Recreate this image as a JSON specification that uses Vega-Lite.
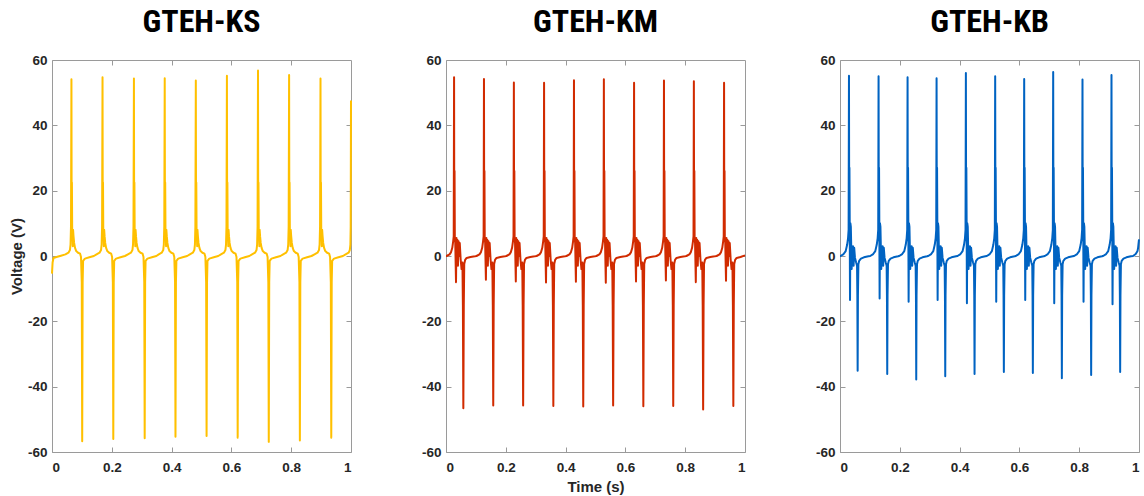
{
"$schema": "https://vega.github.io/schema/vega-lite/v6.json",
"background": "white",
"padding": {"left": 8, "top": 5, "right": 2, "bottom": 2},
"bounds": "flush",
"spacing": 95,
"config": {
  "view": {"stroke": "#9a9a9a", "strokeWidth": 1},
  "axis": {"labelFont": "Liberation Sans", "labelFontWeight": "bold", "labelFontSize": 13.5, "labelColor": "#262626", "domain": false, "tickColor": "#9a9a9a", "tickSize": -5, "labelPadding": 10, "grid": false, "titleFont": "Liberation Sans", "titleFontWeight": "bold", "titleFontSize": 15, "titleColor": "#262626"},
  "axisBottom": {"labelPadding": 13},
  "title": {"font": "Liberation Sans Narrow, Roboto Condensed, Liberation Sans", "fontSize": 32, "fontWeight": "bold", "color": "#000000", "anchor": "middle", "offset": 14}
},
"datasets": {
"ks": [
{"t":0,"v":-5.4},{"t":0.002,"v":-2.0},{"t":0.005,"v":-0.6},{"t":0.015,"v":-0.3},{"t":0.03,"v":0.1},
{"t":0.045,"v":0.5},{"t":0.055,"v":1.0},{"t":0.060,"v":1.8},{"t":0.062,"v":3.5},{"t":0.0635,"v":9},{"t":0.065,"v":54.1},{"t":0.0658,"v":10},{"t":0.0666,"v":22.5},{"t":0.0675,"v":8},{"t":0.0685,"v":6.5},{"t":0.0695,"v":3},{"t":0.0705,"v":8},{"t":0.072,"v":6},{"t":0.074,"v":4},{"t":0.077,"v":2.5},{"t":0.081,"v":1.5},{"t":0.087,"v":1.0},{"t":0.094,"v":0.7},{"t":0.097,"v":-0.3},{"t":0.0995,"v":-8},{"t":0.101,"v":-56.7},{"t":0.1025,"v":-8},{"t":0.104,"v":-1.5},{"t":0.110,"v":-0.8},{"t":0.125,"v":-0.4},{"t":0.140,"v":0.0},
{"t":0.149,"v":0.5},{"t":0.159,"v":1.0},{"t":0.164,"v":1.8},{"t":0.166,"v":3.5},{"t":0.1675,"v":9},{"t":0.169,"v":54.7},{"t":0.1698,"v":10},{"t":0.1706,"v":22.5},{"t":0.1715,"v":8},{"t":0.1725,"v":6.5},{"t":0.1735,"v":3},{"t":0.1745,"v":8},{"t":0.176,"v":6},{"t":0.178,"v":4},{"t":0.181,"v":2.5},{"t":0.185,"v":1.5},{"t":0.191,"v":1.0},{"t":0.198,"v":0.7},{"t":0.201,"v":-0.3},{"t":0.2035,"v":-8},{"t":0.205,"v":-56.0},{"t":0.2065,"v":-8},{"t":0.208,"v":-1.5},{"t":0.214,"v":-0.8},{"t":0.229,"v":-0.4},{"t":0.244,"v":0.0},
{"t":0.254,"v":0.5},{"t":0.264,"v":1.0},{"t":0.269,"v":1.8},{"t":0.271,"v":3.5},{"t":0.2725,"v":9},{"t":0.274,"v":54.3},{"t":0.2748,"v":10},{"t":0.2756,"v":22.5},{"t":0.2765,"v":8},{"t":0.2775,"v":6.5},{"t":0.2785,"v":3},{"t":0.2795,"v":8},{"t":0.281,"v":6},{"t":0.283,"v":4},{"t":0.286,"v":2.5},{"t":0.290,"v":1.5},{"t":0.296,"v":1.0},{"t":0.303,"v":0.7},{"t":0.306,"v":-0.3},{"t":0.3085,"v":-8},{"t":0.310,"v":-55.8},{"t":0.3115,"v":-8},{"t":0.313,"v":-1.5},{"t":0.319,"v":-0.8},{"t":0.334,"v":-0.4},{"t":0.349,"v":0.0},
{"t":0.357,"v":0.5},{"t":0.367,"v":1.0},{"t":0.372,"v":1.8},{"t":0.374,"v":3.5},{"t":0.3755,"v":9},{"t":0.377,"v":54.4},{"t":0.3778,"v":10},{"t":0.3786,"v":22.5},{"t":0.3795,"v":8},{"t":0.3805,"v":6.5},{"t":0.3815,"v":3},{"t":0.3825,"v":8},{"t":0.384,"v":6},{"t":0.386,"v":4},{"t":0.389,"v":2.5},{"t":0.393,"v":1.5},{"t":0.399,"v":1.0},{"t":0.406,"v":0.7},{"t":0.409,"v":-0.3},{"t":0.4115,"v":-8},{"t":0.413,"v":-55.3},{"t":0.4145,"v":-8},{"t":0.416,"v":-1.5},{"t":0.422,"v":-0.8},{"t":0.437,"v":-0.4},{"t":0.452,"v":0.0},
{"t":0.461,"v":0.5},{"t":0.471,"v":1.0},{"t":0.476,"v":1.8},{"t":0.478,"v":3.5},{"t":0.4795,"v":9},{"t":0.481,"v":53.7},{"t":0.4818,"v":10},{"t":0.4826,"v":22.5},{"t":0.4835,"v":8},{"t":0.4845,"v":6.5},{"t":0.4855,"v":3},{"t":0.4865,"v":8},{"t":0.488,"v":6},{"t":0.490,"v":4},{"t":0.493,"v":2.5},{"t":0.497,"v":1.5},{"t":0.503,"v":1.0},{"t":0.510,"v":0.7},{"t":0.513,"v":-0.3},{"t":0.5155,"v":-8},{"t":0.517,"v":-55.1},{"t":0.5185,"v":-8},{"t":0.520,"v":-1.5},{"t":0.526,"v":-0.8},{"t":0.541,"v":-0.4},{"t":0.556,"v":0.0},
{"t":0.565,"v":0.5},{"t":0.575,"v":1.0},{"t":0.580,"v":1.8},{"t":0.582,"v":3.5},{"t":0.5835,"v":9},{"t":0.585,"v":55.2},{"t":0.5858,"v":10},{"t":0.5866,"v":22.5},{"t":0.5875,"v":8},{"t":0.5885,"v":6.5},{"t":0.5895,"v":3},{"t":0.5905,"v":8},{"t":0.592,"v":6},{"t":0.594,"v":4},{"t":0.597,"v":2.5},{"t":0.601,"v":1.5},{"t":0.607,"v":1.0},{"t":0.614,"v":0.7},{"t":0.617,"v":-0.3},{"t":0.6195,"v":-8},{"t":0.621,"v":-55.6},{"t":0.6225,"v":-8},{"t":0.624,"v":-1.5},{"t":0.630,"v":-0.8},{"t":0.645,"v":-0.4},{"t":0.660,"v":0.0},
{"t":0.669,"v":0.5},{"t":0.679,"v":1.0},{"t":0.684,"v":1.8},{"t":0.686,"v":3.5},{"t":0.6875,"v":9},{"t":0.689,"v":56.8},{"t":0.6898,"v":10},{"t":0.6906,"v":22.5},{"t":0.6915,"v":8},{"t":0.6925,"v":6.5},{"t":0.6935,"v":3},{"t":0.6945,"v":8},{"t":0.696,"v":6},{"t":0.698,"v":4},{"t":0.701,"v":2.5},{"t":0.705,"v":1.5},{"t":0.711,"v":1.0},{"t":0.718,"v":0.7},{"t":0.721,"v":-0.3},{"t":0.7235,"v":-8},{"t":0.725,"v":-56.9},{"t":0.7265,"v":-8},{"t":0.728,"v":-1.5},{"t":0.734,"v":-0.8},{"t":0.749,"v":-0.4},{"t":0.764,"v":0.0},
{"t":0.773,"v":0.5},{"t":0.783,"v":1.0},{"t":0.788,"v":1.8},{"t":0.790,"v":3.5},{"t":0.7915,"v":9},{"t":0.793,"v":55.4},{"t":0.7938,"v":10},{"t":0.7946,"v":22.5},{"t":0.7955,"v":8},{"t":0.7965,"v":6.5},{"t":0.7975,"v":3},{"t":0.7985,"v":8},{"t":0.800,"v":6},{"t":0.802,"v":4},{"t":0.805,"v":2.5},{"t":0.809,"v":1.5},{"t":0.815,"v":1.0},{"t":0.822,"v":0.7},{"t":0.825,"v":-0.3},{"t":0.8275,"v":-8},{"t":0.829,"v":-56.5},{"t":0.8305,"v":-8},{"t":0.832,"v":-1.5},{"t":0.838,"v":-0.8},{"t":0.853,"v":-0.4},{"t":0.868,"v":0.0},
{"t":0.878,"v":0.5},{"t":0.888,"v":1.0},{"t":0.893,"v":1.8},{"t":0.895,"v":3.5},{"t":0.8965,"v":9},{"t":0.898,"v":54.3},{"t":0.8988,"v":10},{"t":0.8996,"v":22.5},{"t":0.9005,"v":8},{"t":0.9015,"v":6.5},{"t":0.9025,"v":3},{"t":0.9035,"v":8},{"t":0.905,"v":6},{"t":0.907,"v":4},{"t":0.910,"v":2.5},{"t":0.914,"v":1.5},{"t":0.920,"v":1.0},{"t":0.927,"v":0.7},{"t":0.930,"v":-0.3},{"t":0.9325,"v":-8},{"t":0.934,"v":-55.6},{"t":0.9355,"v":-8},{"t":0.937,"v":-1.5},{"t":0.943,"v":-0.8},{"t":0.958,"v":-0.4},{"t":0.973,"v":0.0},
{"t":0.982,"v":0.5},{"t":0.992,"v":1.0},{"t":0.996,"v":1.8},{"t":0.998,"v":3.5},{"t":0.999,"v":9},{"t":1.0,"v":47.6}
],
"km": [
{"t":0,"v":0.0},
{"t":0.002,"v":0.0},{"t":0.012,"v":0.5},{"t":0.017,"v":1.2},{"t":0.021,"v":2.5},{"t":0.024,"v":4.5},{"t":0.0258,"v":6},{"t":0.027,"v":54.7},{"t":0.0278,"v":6},{"t":0.0286,"v":26},{"t":0.0295,"v":5.5},{"t":0.031,"v":4},{"t":0.0335,"v":-8.0},{"t":0.035,"v":5.5},{"t":0.0365,"v":1},{"t":0.038,"v":5},{"t":0.040,"v":-3},{"t":0.042,"v":4.5},{"t":0.044,"v":0},{"t":0.046,"v":4},{"t":0.049,"v":-1},{"t":0.052,"v":-4},{"t":0.055,"v":-2},{"t":0.0565,"v":-15},{"t":0.058,"v":-46.6},{"t":0.0595,"v":-15},{"t":0.061,"v":-2.5},{"t":0.064,"v":-1.2},{"t":0.069,"v":-0.6},{"t":0.082,"v":-0.3},{"t":0.097,"v":-0.1},
{"t":0.102,"v":0.0},{"t":0.112,"v":0.5},{"t":0.117,"v":1.2},{"t":0.121,"v":2.5},{"t":0.124,"v":4.5},{"t":0.1258,"v":6},{"t":0.127,"v":54.2},{"t":0.1278,"v":6},{"t":0.1286,"v":26},{"t":0.1295,"v":5.5},{"t":0.131,"v":4},{"t":0.1335,"v":-7.3},{"t":0.135,"v":5.5},{"t":0.1365,"v":1},{"t":0.138,"v":5},{"t":0.140,"v":-3},{"t":0.142,"v":4.5},{"t":0.144,"v":0},{"t":0.146,"v":4},{"t":0.149,"v":-1},{"t":0.152,"v":-4},{"t":0.155,"v":-2},{"t":0.1565,"v":-15},{"t":0.158,"v":-45.8},{"t":0.1595,"v":-15},{"t":0.161,"v":-2.5},{"t":0.164,"v":-1.2},{"t":0.169,"v":-0.6},{"t":0.182,"v":-0.3},{"t":0.197,"v":-0.1},
{"t":0.202,"v":0.0},{"t":0.212,"v":0.5},{"t":0.217,"v":1.2},{"t":0.221,"v":2.5},{"t":0.224,"v":4.5},{"t":0.2258,"v":6},{"t":0.227,"v":53.1},{"t":0.2278,"v":6},{"t":0.2286,"v":26},{"t":0.2295,"v":5.5},{"t":0.231,"v":4},{"t":0.2335,"v":-7.8},{"t":0.235,"v":5.5},{"t":0.2365,"v":1},{"t":0.238,"v":5},{"t":0.240,"v":-3},{"t":0.242,"v":4.5},{"t":0.244,"v":0},{"t":0.246,"v":4},{"t":0.249,"v":-1},{"t":0.252,"v":-4},{"t":0.255,"v":-2},{"t":0.2565,"v":-15},{"t":0.258,"v":-45.8},{"t":0.2595,"v":-15},{"t":0.261,"v":-2.5},{"t":0.264,"v":-1.2},{"t":0.269,"v":-0.6},{"t":0.282,"v":-0.3},{"t":0.297,"v":-0.1},
{"t":0.303,"v":0.0},{"t":0.313,"v":0.5},{"t":0.318,"v":1.2},{"t":0.322,"v":2.5},{"t":0.325,"v":4.5},{"t":0.3268,"v":6},{"t":0.328,"v":53.0},{"t":0.3288,"v":6},{"t":0.3296,"v":26},{"t":0.3305,"v":5.5},{"t":0.332,"v":4},{"t":0.3345,"v":-8.1},{"t":0.336,"v":5.5},{"t":0.3375,"v":1},{"t":0.339,"v":5},{"t":0.341,"v":-3},{"t":0.343,"v":4.5},{"t":0.345,"v":0},{"t":0.347,"v":4},{"t":0.350,"v":-1},{"t":0.353,"v":-4},{"t":0.356,"v":-2},{"t":0.3575,"v":-15},{"t":0.359,"v":-45.9},{"t":0.3605,"v":-15},{"t":0.362,"v":-2.5},{"t":0.365,"v":-1.2},{"t":0.370,"v":-0.6},{"t":0.383,"v":-0.3},{"t":0.398,"v":-0.1},
{"t":0.403,"v":0.0},{"t":0.413,"v":0.5},{"t":0.418,"v":1.2},{"t":0.422,"v":2.5},{"t":0.425,"v":4.5},{"t":0.4268,"v":6},{"t":0.428,"v":53.8},{"t":0.4288,"v":6},{"t":0.4296,"v":26},{"t":0.4305,"v":5.5},{"t":0.432,"v":4},{"t":0.4345,"v":-7.9},{"t":0.436,"v":5.5},{"t":0.4375,"v":1},{"t":0.439,"v":5},{"t":0.441,"v":-3},{"t":0.443,"v":4.5},{"t":0.445,"v":0},{"t":0.447,"v":4},{"t":0.450,"v":-1},{"t":0.453,"v":-4},{"t":0.456,"v":-2},{"t":0.4575,"v":-15},{"t":0.459,"v":-46.1},{"t":0.4605,"v":-15},{"t":0.462,"v":-2.5},{"t":0.465,"v":-1.2},{"t":0.470,"v":-0.6},{"t":0.483,"v":-0.3},{"t":0.498,"v":-0.1},
{"t":0.503,"v":0.0},{"t":0.513,"v":0.5},{"t":0.518,"v":1.2},{"t":0.522,"v":2.5},{"t":0.525,"v":4.5},{"t":0.5268,"v":6},{"t":0.528,"v":54.1},{"t":0.5288,"v":6},{"t":0.5296,"v":26},{"t":0.5305,"v":5.5},{"t":0.532,"v":4},{"t":0.5345,"v":-8.2},{"t":0.536,"v":5.5},{"t":0.5375,"v":1},{"t":0.539,"v":5},{"t":0.541,"v":-3},{"t":0.543,"v":4.5},{"t":0.545,"v":0},{"t":0.547,"v":4},{"t":0.550,"v":-1},{"t":0.553,"v":-4},{"t":0.556,"v":-2},{"t":0.5575,"v":-15},{"t":0.559,"v":-45.8},{"t":0.5605,"v":-15},{"t":0.562,"v":-2.5},{"t":0.565,"v":-1.2},{"t":0.570,"v":-0.6},{"t":0.583,"v":-0.3},{"t":0.598,"v":-0.1},
{"t":0.604,"v":0.0},{"t":0.614,"v":0.5},{"t":0.619,"v":1.2},{"t":0.623,"v":2.5},{"t":0.626,"v":4.5},{"t":0.6278,"v":6},{"t":0.629,"v":53.0},{"t":0.6298,"v":6},{"t":0.6306,"v":26},{"t":0.6315,"v":5.5},{"t":0.633,"v":4},{"t":0.6355,"v":-7.8},{"t":0.637,"v":5.5},{"t":0.6385,"v":1},{"t":0.640,"v":5},{"t":0.642,"v":-3},{"t":0.644,"v":4.5},{"t":0.646,"v":0},{"t":0.648,"v":4},{"t":0.651,"v":-1},{"t":0.654,"v":-4},{"t":0.657,"v":-2},{"t":0.6585,"v":-15},{"t":0.660,"v":-46.0},{"t":0.6615,"v":-15},{"t":0.663,"v":-2.5},{"t":0.666,"v":-1.2},{"t":0.671,"v":-0.6},{"t":0.684,"v":-0.3},{"t":0.699,"v":-0.1},
{"t":0.704,"v":0.0},{"t":0.714,"v":0.5},{"t":0.719,"v":1.2},{"t":0.723,"v":2.5},{"t":0.726,"v":4.5},{"t":0.7278,"v":6},{"t":0.729,"v":53.7},{"t":0.7298,"v":6},{"t":0.7306,"v":26},{"t":0.7315,"v":5.5},{"t":0.733,"v":4},{"t":0.7355,"v":-7.5},{"t":0.737,"v":5.5},{"t":0.7385,"v":1},{"t":0.740,"v":5},{"t":0.742,"v":-3},{"t":0.744,"v":4.5},{"t":0.746,"v":0},{"t":0.748,"v":4},{"t":0.751,"v":-1},{"t":0.754,"v":-4},{"t":0.757,"v":-2},{"t":0.7585,"v":-15},{"t":0.760,"v":-45.9},{"t":0.7615,"v":-15},{"t":0.763,"v":-2.5},{"t":0.766,"v":-1.2},{"t":0.771,"v":-0.6},{"t":0.784,"v":-0.3},{"t":0.799,"v":-0.1},
{"t":0.804,"v":0.0},{"t":0.814,"v":0.5},{"t":0.819,"v":1.2},{"t":0.823,"v":2.5},{"t":0.826,"v":4.5},{"t":0.8278,"v":6},{"t":0.829,"v":53.5},{"t":0.8298,"v":6},{"t":0.8306,"v":26},{"t":0.8315,"v":5.5},{"t":0.833,"v":4},{"t":0.8355,"v":-8.0},{"t":0.837,"v":5.5},{"t":0.8385,"v":1},{"t":0.840,"v":5},{"t":0.842,"v":-3},{"t":0.844,"v":4.5},{"t":0.846,"v":0},{"t":0.848,"v":4},{"t":0.851,"v":-1},{"t":0.854,"v":-4},{"t":0.857,"v":-2},{"t":0.8585,"v":-15},{"t":0.860,"v":-47.0},{"t":0.8615,"v":-15},{"t":0.863,"v":-2.5},{"t":0.866,"v":-1.2},{"t":0.871,"v":-0.6},{"t":0.884,"v":-0.3},{"t":0.899,"v":-0.1},
{"t":0.905,"v":0.0},{"t":0.915,"v":0.5},{"t":0.920,"v":1.2},{"t":0.924,"v":2.5},{"t":0.927,"v":4.5},{"t":0.9288,"v":6},{"t":0.930,"v":53.0},{"t":0.9308,"v":6},{"t":0.9316,"v":26},{"t":0.9325,"v":5.5},{"t":0.934,"v":4},{"t":0.9365,"v":-7.6},{"t":0.938,"v":5.5},{"t":0.9395,"v":1},{"t":0.941,"v":5},{"t":0.943,"v":-3},{"t":0.945,"v":4.5},{"t":0.947,"v":0},{"t":0.949,"v":4},{"t":0.952,"v":-1},{"t":0.955,"v":-4},{"t":0.958,"v":-2},{"t":0.9595,"v":-15},{"t":0.961,"v":-45.9},{"t":0.9625,"v":-15},{"t":0.964,"v":-2.5},{"t":0.967,"v":-1.2},{"t":0.972,"v":-0.6},{"t":0.985,"v":-0.3},{"t":1.0,"v":0.2}
],
"kb": [
{"t":0,"v":0.0},
{"t":0.002,"v":0.0},{"t":0.012,"v":0.6},{"t":0.019,"v":1.5},{"t":0.024,"v":3.5},{"t":0.027,"v":5.5},{"t":0.0288,"v":8},{"t":0.030,"v":55.2},{"t":0.0308,"v":10},{"t":0.0316,"v":27},{"t":0.0325,"v":10.5},{"t":0.0335,"v":-13.5},{"t":0.0348,"v":10},{"t":0.0362,"v":9},{"t":0.0378,"v":2},{"t":0.039,"v":-4},{"t":0.0405,"v":3},{"t":0.042,"v":-2},{"t":0.0435,"v":3},{"t":0.0455,"v":-3},{"t":0.0475,"v":2.5},{"t":0.050,"v":-0.5},{"t":0.054,"v":-2},{"t":0.057,"v":-3},{"t":0.058,"v":-12},{"t":0.059,"v":-35.1},{"t":0.060,"v":-12},{"t":0.0615,"v":-2.5},{"t":0.064,"v":-1.5},{"t":0.070,"v":-0.8},{"t":0.080,"v":-0.4},{"t":0.095,"v":-0.1},
{"t":0.101,"v":0.0},{"t":0.111,"v":0.6},{"t":0.118,"v":1.5},{"t":0.123,"v":3.5},{"t":0.126,"v":5.5},{"t":0.1278,"v":8},{"t":0.129,"v":55.0},{"t":0.1298,"v":10},{"t":0.1306,"v":27},{"t":0.1315,"v":10.5},{"t":0.1325,"v":-13.0},{"t":0.1338,"v":10},{"t":0.1352,"v":9},{"t":0.1368,"v":2},{"t":0.138,"v":-4},{"t":0.1395,"v":3},{"t":0.141,"v":-2},{"t":0.1425,"v":3},{"t":0.1445,"v":-3},{"t":0.1465,"v":2.5},{"t":0.149,"v":-0.5},{"t":0.153,"v":-2},{"t":0.156,"v":-3},{"t":0.157,"v":-12},{"t":0.158,"v":-36.1},{"t":0.159,"v":-12},{"t":0.1605,"v":-2.5},{"t":0.163,"v":-1.5},{"t":0.169,"v":-0.8},{"t":0.179,"v":-0.4},{"t":0.194,"v":-0.1},
{"t":0.198,"v":0.0},{"t":0.208,"v":0.6},{"t":0.215,"v":1.5},{"t":0.220,"v":3.5},{"t":0.223,"v":5.5},{"t":0.2248,"v":8},{"t":0.226,"v":54.7},{"t":0.2268,"v":10},{"t":0.2276,"v":27},{"t":0.2285,"v":10.5},{"t":0.2295,"v":-14.0},{"t":0.2308,"v":10},{"t":0.2322,"v":9},{"t":0.2338,"v":2},{"t":0.235,"v":-4},{"t":0.2365,"v":3},{"t":0.238,"v":-2},{"t":0.2395,"v":3},{"t":0.2415,"v":-3},{"t":0.2435,"v":2.5},{"t":0.246,"v":-0.5},{"t":0.250,"v":-2},{"t":0.253,"v":-3},{"t":0.254,"v":-12},{"t":0.255,"v":-37.8},{"t":0.256,"v":-12},{"t":0.2575,"v":-2.5},{"t":0.260,"v":-1.5},{"t":0.266,"v":-0.8},{"t":0.276,"v":-0.4},{"t":0.291,"v":-0.1},
{"t":0.295,"v":0.0},{"t":0.305,"v":0.6},{"t":0.312,"v":1.5},{"t":0.317,"v":3.5},{"t":0.320,"v":5.5},{"t":0.3218,"v":8},{"t":0.323,"v":54.4},{"t":0.3238,"v":10},{"t":0.3246,"v":27},{"t":0.3255,"v":10.5},{"t":0.3265,"v":-13.5},{"t":0.3278,"v":10},{"t":0.3292,"v":9},{"t":0.3308,"v":2},{"t":0.332,"v":-4},{"t":0.3335,"v":3},{"t":0.335,"v":-2},{"t":0.3365,"v":3},{"t":0.3385,"v":-3},{"t":0.3405,"v":2.5},{"t":0.343,"v":-0.5},{"t":0.347,"v":-2},{"t":0.350,"v":-3},{"t":0.351,"v":-12},{"t":0.352,"v":-36.8},{"t":0.353,"v":-12},{"t":0.3545,"v":-2.5},{"t":0.357,"v":-1.5},{"t":0.363,"v":-0.8},{"t":0.373,"v":-0.4},{"t":0.388,"v":-0.1},
{"t":0.393,"v":0.0},{"t":0.403,"v":0.6},{"t":0.410,"v":1.5},{"t":0.415,"v":3.5},{"t":0.418,"v":5.5},{"t":0.4198,"v":8},{"t":0.421,"v":56.0},{"t":0.4218,"v":10},{"t":0.4226,"v":27},{"t":0.4235,"v":10.5},{"t":0.4245,"v":-14.5},{"t":0.4258,"v":10},{"t":0.4272,"v":9},{"t":0.4288,"v":2},{"t":0.430,"v":-4},{"t":0.4315,"v":3},{"t":0.433,"v":-2},{"t":0.4345,"v":3},{"t":0.4365,"v":-3},{"t":0.4385,"v":2.5},{"t":0.441,"v":-0.5},{"t":0.445,"v":-2},{"t":0.448,"v":-3},{"t":0.449,"v":-12},{"t":0.450,"v":-36.1},{"t":0.451,"v":-12},{"t":0.4525,"v":-2.5},{"t":0.455,"v":-1.5},{"t":0.461,"v":-0.8},{"t":0.471,"v":-0.4},{"t":0.486,"v":-0.1},
{"t":0.491,"v":0.0},{"t":0.501,"v":0.6},{"t":0.508,"v":1.5},{"t":0.513,"v":3.5},{"t":0.516,"v":5.5},{"t":0.5178,"v":8},{"t":0.519,"v":55.0},{"t":0.5198,"v":10},{"t":0.5206,"v":27},{"t":0.5215,"v":10.5},{"t":0.5225,"v":-14.0},{"t":0.5238,"v":10},{"t":0.5252,"v":9},{"t":0.5268,"v":2},{"t":0.528,"v":-4},{"t":0.5295,"v":3},{"t":0.531,"v":-2},{"t":0.5325,"v":3},{"t":0.5345,"v":-3},{"t":0.5365,"v":2.5},{"t":0.539,"v":-0.5},{"t":0.543,"v":-2},{"t":0.546,"v":-3},{"t":0.547,"v":-12},{"t":0.548,"v":-35.5},{"t":0.549,"v":-12},{"t":0.5505,"v":-2.5},{"t":0.553,"v":-1.5},{"t":0.559,"v":-0.8},{"t":0.569,"v":-0.4},{"t":0.584,"v":-0.1},
{"t":0.588,"v":0.0},{"t":0.598,"v":0.6},{"t":0.605,"v":1.5},{"t":0.610,"v":3.5},{"t":0.613,"v":5.5},{"t":0.6148,"v":8},{"t":0.616,"v":54.2},{"t":0.6168,"v":10},{"t":0.6176,"v":27},{"t":0.6185,"v":10.5},{"t":0.6195,"v":-13.5},{"t":0.6208,"v":10},{"t":0.6222,"v":9},{"t":0.6238,"v":2},{"t":0.625,"v":-4},{"t":0.6265,"v":3},{"t":0.628,"v":-2},{"t":0.6295,"v":3},{"t":0.6315,"v":-3},{"t":0.6335,"v":2.5},{"t":0.636,"v":-0.5},{"t":0.640,"v":-2},{"t":0.643,"v":-3},{"t":0.644,"v":-12},{"t":0.645,"v":-35.8},{"t":0.646,"v":-12},{"t":0.6475,"v":-2.5},{"t":0.650,"v":-1.5},{"t":0.656,"v":-0.8},{"t":0.666,"v":-0.4},{"t":0.681,"v":-0.1},
{"t":0.685,"v":0.0},{"t":0.695,"v":0.6},{"t":0.702,"v":1.5},{"t":0.707,"v":3.5},{"t":0.710,"v":5.5},{"t":0.7118,"v":8},{"t":0.713,"v":56.3},{"t":0.7138,"v":10},{"t":0.7146,"v":27},{"t":0.7155,"v":10.5},{"t":0.7165,"v":-14.5},{"t":0.7178,"v":10},{"t":0.7192,"v":9},{"t":0.7208,"v":2},{"t":0.722,"v":-4},{"t":0.7235,"v":3},{"t":0.725,"v":-2},{"t":0.7265,"v":3},{"t":0.7285,"v":-3},{"t":0.7305,"v":2.5},{"t":0.733,"v":-0.5},{"t":0.737,"v":-2},{"t":0.740,"v":-3},{"t":0.741,"v":-12},{"t":0.742,"v":-37.4},{"t":0.743,"v":-12},{"t":0.7445,"v":-2.5},{"t":0.747,"v":-1.5},{"t":0.753,"v":-0.8},{"t":0.763,"v":-0.4},{"t":0.778,"v":-0.1},
{"t":0.783,"v":0.0},{"t":0.793,"v":0.6},{"t":0.800,"v":1.5},{"t":0.805,"v":3.5},{"t":0.808,"v":5.5},{"t":0.8098,"v":8},{"t":0.811,"v":54.0},{"t":0.8118,"v":10},{"t":0.8126,"v":27},{"t":0.8135,"v":10.5},{"t":0.8145,"v":-14.0},{"t":0.8158,"v":10},{"t":0.8172,"v":9},{"t":0.8188,"v":2},{"t":0.820,"v":-4},{"t":0.8215,"v":3},{"t":0.823,"v":-2},{"t":0.8245,"v":3},{"t":0.8265,"v":-3},{"t":0.8285,"v":2.5},{"t":0.831,"v":-0.5},{"t":0.835,"v":-2},{"t":0.838,"v":-3},{"t":0.839,"v":-12},{"t":0.840,"v":-36.4},{"t":0.841,"v":-12},{"t":0.8425,"v":-2.5},{"t":0.845,"v":-1.5},{"t":0.851,"v":-0.8},{"t":0.861,"v":-0.4},{"t":0.876,"v":-0.1},
{"t":0.880,"v":0.0},{"t":0.890,"v":0.6},{"t":0.897,"v":1.5},{"t":0.902,"v":3.5},{"t":0.905,"v":5.5},{"t":0.9068,"v":8},{"t":0.908,"v":55.4},{"t":0.9088,"v":10},{"t":0.9096,"v":27},{"t":0.9105,"v":10.5},{"t":0.9115,"v":-14.8},{"t":0.9128,"v":10},{"t":0.9142,"v":9},{"t":0.9158,"v":2},{"t":0.917,"v":-4},{"t":0.9185,"v":3},{"t":0.920,"v":-2},{"t":0.9215,"v":3},{"t":0.9235,"v":-3},{"t":0.9255,"v":2.5},{"t":0.928,"v":-0.5},{"t":0.932,"v":-2},{"t":0.935,"v":-3},{"t":0.936,"v":-12},{"t":0.937,"v":-35.5},{"t":0.938,"v":-12},{"t":0.9395,"v":-2.5},{"t":0.942,"v":-1.5},{"t":0.948,"v":-0.8},{"t":0.958,"v":-0.4},{"t":0.973,"v":-0.1},
{"t":0.980,"v":0.0},{"t":0.989,"v":0.6},{"t":0.995,"v":1.5},{"t":0.997,"v":2.5},{"t":1.0,"v":5.1}
]
},
"hconcat": [
{
  "title": "GTEH-KS",
  "width": 299, "height": 392,
  "data": {"name": "ks"},
  "layer": [
    {"mark": {"type": "line", "color": "#FFC000", "strokeWidth": 2, "strokeJoin": "round"},
     "encoding": {
       "x": {"field": "t", "type": "quantitative", "scale": {"domain": [0, 1], "nice": false}, "axis": {"orient": "bottom", "values": [0, 0.2, 0.4, 0.6, 0.8, 1], "labelExpr": "'' + datum.value", "title": null}},
       "y": {"field": "v", "type": "quantitative", "scale": {"domain": [-60, 60], "nice": false}, "axis": {"orient": "left", "values": [-60, -40, -20, 0, 20, 40, 60], "labelExpr": "'' + datum.value", "title": "Voltage (V)", "titlePadding": 3}}
     }},
    {"mark": {"type": "line", "opacity": 0},
     "encoding": {
       "x": {"field": "t", "type": "quantitative", "scale": {"domain": [0, 1], "nice": false}, "axis": {"orient": "top", "values": [0.2, 0.4, 0.6, 0.8], "labels": false, "title": null}},
       "y": {"field": "v", "type": "quantitative", "scale": {"domain": [-60, 60], "nice": false}, "axis": {"orient": "right", "values": [-40, -20, 0, 20, 40], "labels": false, "title": null}}
     }}
  ],
  "resolve": {"axis": {"x": "independent", "y": "independent"}}
},
{
  "title": "GTEH-KM",
  "width": 299, "height": 392,
  "data": {"name": "km"},
  "layer": [
    {"mark": {"type": "line", "color": "#D12B00", "strokeWidth": 2, "strokeJoin": "round"},
     "encoding": {
       "x": {"field": "t", "type": "quantitative", "scale": {"domain": [0, 1], "nice": false}, "axis": {"orient": "bottom", "values": [0, 0.2, 0.4, 0.6, 0.8, 1], "labelExpr": "'' + datum.value", "title": "Time (s)", "titlePadding": 6}},
       "y": {"field": "v", "type": "quantitative", "scale": {"domain": [-60, 60], "nice": false}, "axis": {"orient": "left", "values": [-60, -40, -20, 0, 20, 40, 60], "labelExpr": "'' + datum.value", "title": null}}
     }},
    {"mark": {"type": "line", "opacity": 0},
     "encoding": {
       "x": {"field": "t", "type": "quantitative", "scale": {"domain": [0, 1], "nice": false}, "axis": {"orient": "top", "values": [0.2, 0.4, 0.6, 0.8], "labels": false, "title": null}},
       "y": {"field": "v", "type": "quantitative", "scale": {"domain": [-60, 60], "nice": false}, "axis": {"orient": "right", "values": [-40, -20, 0, 20, 40], "labels": false, "title": null}}
     }}
  ],
  "resolve": {"axis": {"x": "independent", "y": "independent"}}
},
{
  "title": "GTEH-KB",
  "width": 299, "height": 392,
  "data": {"name": "kb"},
  "layer": [
    {"mark": {"type": "line", "color": "#0063C2", "strokeWidth": 2, "strokeJoin": "round"},
     "encoding": {
       "x": {"field": "t", "type": "quantitative", "scale": {"domain": [0, 1], "nice": false}, "axis": {"orient": "bottom", "values": [0, 0.2, 0.4, 0.6, 0.8, 1], "labelExpr": "'' + datum.value", "title": null}},
       "y": {"field": "v", "type": "quantitative", "scale": {"domain": [-60, 60], "nice": false}, "axis": {"orient": "left", "values": [-60, -40, -20, 0, 20, 40, 60], "labelExpr": "'' + datum.value", "title": null}}
     }},
    {"mark": {"type": "line", "opacity": 0},
     "encoding": {
       "x": {"field": "t", "type": "quantitative", "scale": {"domain": [0, 1], "nice": false}, "axis": {"orient": "top", "values": [0.2, 0.4, 0.6, 0.8], "labels": false, "title": null}},
       "y": {"field": "v", "type": "quantitative", "scale": {"domain": [-60, 60], "nice": false}, "axis": {"orient": "right", "values": [-40, -20, 0, 20, 40], "labels": false, "title": null}}
     }}
  ],
  "resolve": {"axis": {"x": "independent", "y": "independent"}}
}
]
}
